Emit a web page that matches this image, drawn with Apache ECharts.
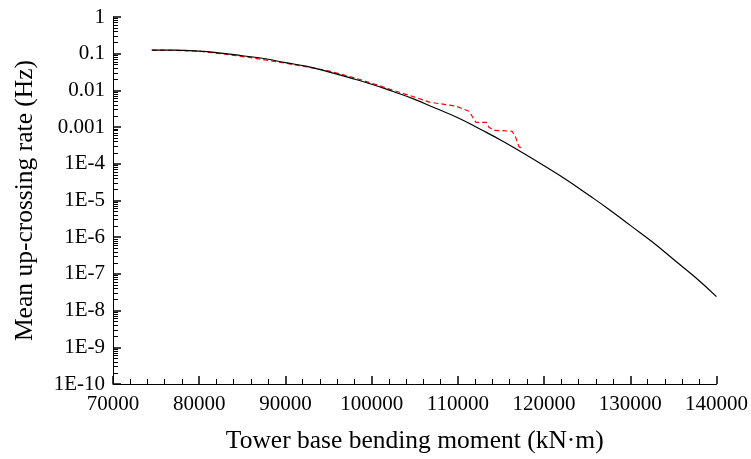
<!DOCTYPE html>
<html>
<head>
<meta charset="utf-8">
<script src="https://cdn.jsdelivr.net/npm/echarts@6/dist/echarts.min.js"></script>
<style>
  html, body { margin: 0; padding: 0; background: #fff; }
  #chart { width: 751px; height: 459px; }
</style>
</head>
<body>
<div id="chart"></div>
<script>
// fitted curve (kN·m, Hz)
const fitMoment = [74500, 77000, 80000, 82500, 85000, 87500, 90000, 92500, 95000, 97500,
  100000, 102500, 105000, 107500, 110000, 112500, 115000, 117500, 120000, 122500,
  125000, 127500, 130000, 132500, 135000, 137500, 140000]
const fitRate = [0.125, 0.125, 0.118, 0.104, 0.088, 0.074, 0.057, 0.045, 0.032, 0.022,
  0.0147, 0.0093, 0.0057, 0.0032, 0.0018, 9.0e-4, 4.4e-4, 2.0e-4, 8.9e-5, 3.8e-5,
  1.5e-5, 5.8e-6, 2.1e-6, 7.6e-7, 2.5e-7, 8.2e-8, 2.4e-8]

// empirical mean up-crossing rate
const empMoment = [74500, 77000, 80000, 83000, 86000, 89000, 92000, 95000, 98000, 100900,
  102500, 104400, 106700, 108600, 109800, 111300, 112100, 113300, 113600, 114200,
  116300, 116700, 117100, 117400]
const empRate = [0.125, 0.124, 0.117, 0.097, 0.078, 0.060, 0.046, 0.034, 0.022, 0.0135,
  0.0100, 0.0073, 0.0048, 0.0041, 0.0037, 0.0027, 0.00135, 0.00135, 0.00099, 0.00082,
  0.00077, 0.00053, 0.00029, 0.00027]

const xTicks = { min: 70000, max: 140000, step: 10000 }
const yTickLabels = ['1', '0.1', '0.01', '0.001', '1E-4', '1E-5', '1E-6', '1E-7', '1E-8', '1E-9', '1E-10']

const serif = 'Liberation Serif'
const chart = echarts.init(document.getElementById('chart'))

chart.setOption({
  animation: false,
  grid: { left: 113, right: 33, top: 17, bottom: 72 },
  xAxis: {
    type: 'value',
    min: xTicks.min,
    max: xTicks.max,
    interval: xTicks.step,
    axisLine: { show: true, lineStyle: { color: '#000', width: 1 } },
    axisTick: { show: true, inside: true, length: 8, lineStyle: { color: '#000', width: 1.5 } },
    minorTick: { show: true, splitNumber: 5, length: 5, lineStyle: { color: '#000' } },
    splitLine: { show: false },
    axisLabel: { color: '#000', fontFamily: serif, fontSize: 21, margin: 10, formatter: v => String(v) },
    name: 'Tower base bending moment (kN\u00b7m)',
    nameLocation: 'middle',
    nameGap: 44,
    nameTextStyle: { color: '#000', fontFamily: serif, fontSize: 25.5 }
  },
  yAxis: {
    type: 'log',
    min: 1e-10,
    max: 1,
    interval: 1,
    axisLine: { show: true, lineStyle: { color: '#000', width: 1 } },
    axisTick: { show: true, inside: true, length: 8, lineStyle: { color: '#000', width: 1.5 } },
    minorTick: { show: true, splitNumber: 9, length: 5, lineStyle: { color: '#000' } },
    splitLine: { show: false },
    axisLabel: {
      color: '#000',
      fontFamily: serif,
      fontSize: 21,
      margin: 8,
      formatter: v => yTickLabels[Math.round(-Math.log10(v))]
    },
    name: 'Mean up-crossing rate (Hz)',
    nameLocation: 'middle',
    nameGap: 75,
    nameTextStyle: { color: '#000', fontFamily: serif, fontSize: 25.5 }
  },
  series: [
    {
      name: 'avg',
      type: 'line',
      data: empMoment.map((m, i) => [m, empRate[i]]),
      showSymbol: false,
      lineStyle: { color: '#ff0000', width: 1.2, type: [5, 3] },
      itemStyle: { color: '#ff0000' }
    },
    {
      name: 'fit',
      type: 'line',
      data: fitMoment.map((m, i) => [m, fitRate[i]]),
      smooth: true,
      showSymbol: false,
      lineStyle: { color: '#000', width: 1.2 },
      itemStyle: { color: '#000' }
    }
  ]
})
</script>
</body>
</html>
